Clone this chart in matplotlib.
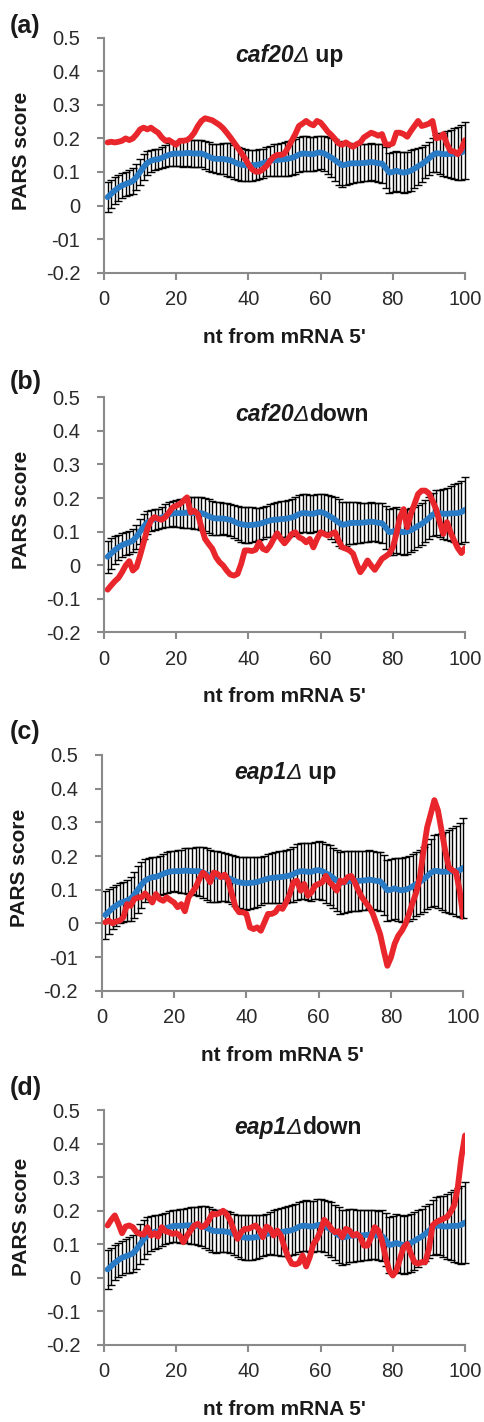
import matplotlib
matplotlib.use("Agg")
import matplotlib.pyplot as plt

plt.rcParams['font.family'] = ['Liberation Sans', 'DejaVu Sans']

# nucleotide positions from the mRNA 5' end
positions = list(range(1, 101))

# mean PARS profile of all mRNAs (blue), shared by the four panels
mean_profile = [0.025, 0.035, 0.045, 0.053, 0.060, 0.064, 0.068, 0.073, 0.085, 0.100,
                0.115, 0.127, 0.133, 0.137, 0.138, 0.142, 0.147, 0.151, 0.154, 0.155,
                0.155, 0.155, 0.157, 0.156, 0.155, 0.155, 0.155, 0.151, 0.146, 0.141,
                0.139, 0.139, 0.139, 0.137, 0.135, 0.130, 0.125, 0.122, 0.120, 0.119,
                0.120, 0.121, 0.123, 0.126, 0.130, 0.133, 0.135, 0.136, 0.137, 0.138,
                0.140, 0.142, 0.146, 0.152, 0.155, 0.155, 0.153, 0.153, 0.157, 0.158,
                0.155, 0.149, 0.143, 0.135, 0.127, 0.120, 0.122, 0.125, 0.126, 0.126,
                0.126, 0.127, 0.128, 0.130, 0.128, 0.126, 0.125, 0.113, 0.098, 0.100,
                0.104, 0.100, 0.098, 0.100, 0.104, 0.110, 0.117, 0.123, 0.131, 0.140,
                0.150, 0.156, 0.155, 0.153, 0.153, 0.154, 0.155, 0.155, 0.158, 0.165]

# error bar half-widths for each panel
err_a = [0.044, 0.042, 0.040, 0.038, 0.037, 0.037, 0.037, 0.038, 0.039, 0.040,
         0.038, 0.035, 0.033, 0.031, 0.030, 0.031, 0.032, 0.034, 0.036, 0.037,
         0.038, 0.039, 0.040, 0.040, 0.040, 0.041, 0.041, 0.042, 0.042, 0.042,
         0.043, 0.044, 0.046, 0.048, 0.050, 0.050, 0.049, 0.048, 0.047, 0.047,
         0.046, 0.045, 0.044, 0.043, 0.043, 0.045, 0.047, 0.048, 0.049, 0.050,
         0.051, 0.052, 0.053, 0.053, 0.053, 0.052, 0.051, 0.051, 0.050, 0.050,
         0.052, 0.055, 0.058, 0.062, 0.065, 0.065, 0.062, 0.060, 0.058, 0.057,
         0.056, 0.055, 0.055, 0.055, 0.055, 0.056, 0.058, 0.060, 0.060, 0.060,
         0.060, 0.061, 0.061, 0.061, 0.061, 0.058, 0.055, 0.052, 0.050, 0.048,
         0.050, 0.055, 0.060, 0.064, 0.068, 0.072, 0.075, 0.078, 0.082, 0.085]
err_b = [0.048, 0.045, 0.042, 0.038, 0.035, 0.034, 0.034, 0.035, 0.036, 0.037,
         0.036, 0.034, 0.032, 0.031, 0.030, 0.032, 0.034, 0.036, 0.038, 0.040,
         0.042, 0.043, 0.045, 0.046, 0.047, 0.048, 0.049, 0.050, 0.050, 0.050,
         0.049, 0.048, 0.047, 0.047, 0.047, 0.048, 0.050, 0.052, 0.053, 0.053,
         0.052, 0.050, 0.048, 0.047, 0.047, 0.048, 0.050, 0.052, 0.053, 0.054,
         0.055, 0.056, 0.057, 0.057, 0.057, 0.056, 0.056, 0.055, 0.055, 0.055,
         0.057, 0.060, 0.064, 0.067, 0.070, 0.068, 0.065, 0.063, 0.062, 0.061,
         0.060, 0.059, 0.058, 0.057, 0.057, 0.058, 0.060, 0.064, 0.068, 0.070,
         0.069, 0.068, 0.067, 0.066, 0.065, 0.064, 0.063, 0.062, 0.062, 0.062,
         0.064, 0.067, 0.070, 0.074, 0.078, 0.082, 0.086, 0.090, 0.094, 0.097]
err_c = [0.070, 0.066, 0.063, 0.060, 0.059, 0.060, 0.062, 0.065, 0.068, 0.070,
         0.068, 0.064, 0.061, 0.059, 0.058, 0.058, 0.059, 0.060, 0.060, 0.060,
         0.062, 0.064, 0.066, 0.068, 0.069, 0.071, 0.073, 0.075, 0.077, 0.078,
         0.077, 0.075, 0.073, 0.071, 0.071, 0.072, 0.074, 0.076, 0.077, 0.078,
         0.077, 0.075, 0.073, 0.072, 0.071, 0.072, 0.074, 0.076, 0.077, 0.078,
         0.079, 0.080, 0.082, 0.083, 0.083, 0.084, 0.085, 0.086, 0.086, 0.086,
         0.087, 0.088, 0.089, 0.090, 0.091, 0.092, 0.092, 0.091, 0.090, 0.090,
         0.089, 0.088, 0.087, 0.087, 0.086, 0.087, 0.088, 0.089, 0.090, 0.090,
         0.091, 0.093, 0.095, 0.097, 0.097, 0.097, 0.096, 0.096, 0.096, 0.097,
         0.100, 0.105, 0.110, 0.114, 0.118, 0.123, 0.128, 0.134, 0.140, 0.148]
err_d = [0.058, 0.055, 0.052, 0.050, 0.050, 0.051, 0.053, 0.056, 0.058, 0.060,
         0.058, 0.055, 0.052, 0.050, 0.048, 0.047, 0.047, 0.047, 0.048, 0.048,
         0.050, 0.051, 0.052, 0.054, 0.055, 0.057, 0.060, 0.062, 0.064, 0.065,
         0.064, 0.063, 0.062, 0.061, 0.060, 0.061, 0.063, 0.065, 0.066, 0.067,
         0.066, 0.065, 0.063, 0.062, 0.061, 0.063, 0.066, 0.069, 0.071, 0.073,
         0.074, 0.075, 0.075, 0.075, 0.075, 0.076, 0.076, 0.077, 0.077, 0.077,
         0.078, 0.080, 0.082, 0.083, 0.084, 0.083, 0.081, 0.079, 0.078, 0.077,
         0.076, 0.075, 0.074, 0.073, 0.073, 0.074, 0.076, 0.079, 0.083, 0.085,
         0.086, 0.087, 0.087, 0.087, 0.087, 0.086, 0.085, 0.083, 0.082, 0.080,
         0.082, 0.085, 0.088, 0.092, 0.097, 0.102, 0.107, 0.112, 0.116, 0.120]

# PARS profiles of the regulated gene sets (red)
red_a = [0.188, 0.190, 0.188, 0.190, 0.193, 0.200, 0.195, 0.200, 0.212, 0.227,
         0.232, 0.227, 0.232, 0.224, 0.217, 0.203, 0.193, 0.195, 0.188, 0.181,
         0.193, 0.193, 0.195, 0.203, 0.217, 0.237, 0.252, 0.260, 0.257, 0.254,
         0.247, 0.240, 0.230, 0.217, 0.203, 0.188, 0.173, 0.158, 0.141, 0.123,
         0.108, 0.101, 0.101, 0.108, 0.118, 0.133, 0.145, 0.151, 0.151, 0.155,
         0.173, 0.193, 0.213, 0.237, 0.244, 0.252, 0.244, 0.239, 0.252, 0.247,
         0.234, 0.220, 0.210, 0.198, 0.185, 0.181, 0.188, 0.181, 0.175, 0.183,
         0.188, 0.203, 0.210, 0.217, 0.213, 0.208, 0.213, 0.183, 0.181, 0.185,
         0.217, 0.217, 0.213, 0.205, 0.222, 0.237, 0.252, 0.237, 0.240, 0.244,
         0.252, 0.200, 0.203, 0.213, 0.183, 0.163, 0.161, 0.153, 0.168, 0.195]
red_b = [-0.073, -0.060, -0.048, -0.038, -0.021, -0.001, 0.012, -0.016, -0.006, 0.029,
         0.068, 0.108, 0.133, 0.143, 0.138, 0.135, 0.143, 0.157, 0.172, 0.177,
         0.182, 0.192, 0.202, 0.157, 0.162, 0.152, 0.113, 0.078, 0.063, 0.049,
         0.024, 0.009, -0.001, -0.016, -0.028, -0.031, -0.026, 0.004, 0.044, 0.044,
         0.042, 0.046, 0.068, 0.049, 0.044, 0.058, 0.078, 0.095, 0.078, 0.065,
         0.078, 0.093, 0.098, 0.083, 0.078, 0.068, 0.078, 0.053, 0.078, 0.098,
         0.093, 0.088, 0.093, 0.098, 0.073, 0.053, 0.049, 0.044, 0.034, 0.004,
         -0.021, -0.006, 0.014, -0.001, -0.014, 0.002, 0.019, 0.026, 0.034, 0.053,
         0.093, 0.143, 0.167, 0.113, 0.152, 0.182, 0.212, 0.222, 0.222, 0.214,
         0.192, 0.167, 0.128, 0.093, 0.128, 0.098, 0.073, 0.051, 0.036, 0.051]
red_c = [0.003, 0.008, 0.000, 0.006, 0.008, 0.018, 0.057, 0.052, 0.072, 0.077,
         0.077, 0.089, 0.077, 0.062, 0.087, 0.072, 0.067, 0.077, 0.069, 0.062,
         0.048, 0.057, 0.036, 0.077, 0.092, 0.107, 0.132, 0.151, 0.141, 0.122,
         0.151, 0.147, 0.137, 0.145, 0.127, 0.087, 0.048, 0.033, 0.033, 0.028,
         -0.012, -0.017, -0.012, -0.022, 0.003, 0.028, 0.028, 0.033, 0.048, 0.043,
         0.062, 0.087, 0.122, 0.127, 0.097, 0.117, 0.082, 0.092, 0.112, 0.117,
         0.122, 0.141, 0.122, 0.112, 0.097, 0.127, 0.122, 0.137, 0.141, 0.122,
         0.097, 0.077, 0.062, 0.048, 0.028, -0.002, -0.032, -0.081, -0.126, -0.101,
         -0.061, -0.037, -0.022, -0.002, 0.028, 0.062, 0.092, 0.137, 0.216, 0.285,
         0.325, 0.366, 0.335, 0.275, 0.216, 0.166, 0.158, 0.151, 0.097, 0.018]
red_d = [0.156, 0.173, 0.186, 0.161, 0.133, 0.153, 0.156, 0.151, 0.136, 0.131,
         0.129, 0.151, 0.126, 0.133, 0.123, 0.151, 0.139, 0.136, 0.131, 0.133,
         0.126, 0.106, 0.126, 0.141, 0.156, 0.161, 0.151, 0.156, 0.171, 0.191,
         0.189, 0.193, 0.200, 0.189, 0.171, 0.141, 0.116, 0.136, 0.146, 0.146,
         0.151, 0.156, 0.143, 0.121, 0.153, 0.146, 0.126, 0.141, 0.126, 0.091,
         0.062, 0.042, 0.040, 0.044, 0.067, 0.034, 0.062, 0.101, 0.116, 0.141,
         0.173, 0.161, 0.146, 0.136, 0.139, 0.121, 0.146, 0.141, 0.126, 0.131,
         0.121, 0.096, 0.096, 0.121, 0.151, 0.141, 0.111, 0.062, 0.022, 0.007,
         0.022, 0.057, 0.091, 0.101, 0.072, 0.047, 0.042, 0.047, 0.047, 0.086,
         0.156, 0.166, 0.171, 0.176, 0.181, 0.196, 0.216, 0.270, 0.359, 0.424]

panel_tags = ["(a)", "(b)", "(c)", "(d)"]
genes = ["caf20", "caf20", "eap1", "eap1"]
suffixes = [" up", "down", " up", "down"]
y_ticks = [-0.2, -0.1, 0, 0.1, 0.2, 0.3, 0.4, 0.5]
y_labels_typo = ["-0.2", "-01", "0", "0.1", "0.2", "0.3", "0.4", "0.5"]
y_labels_ok = ["-0.2", "-0.1", "0", "0.1", "0.2", "0.3", "0.4", "0.5"]
x_ticks = [0, 20, 40, 60, 80, 100]

errs = [err_a, err_b, err_c, err_d]
reds = [red_a, red_b, red_c, red_d]
ytick_text = [y_labels_typo, y_labels_ok, y_labels_typo, y_labels_ok]

W, H = 484, 1422
# axes boxes in pixels: left, top, right, bottom
boxes = [(104, 37.7, 465, 272.7),
         (104, 397.3, 465, 632.3),
         (101.7, 755, 463.3, 990.7),
         (104, 1110, 465, 1345)]
tag_y = [26, 382, 732, 1088]
title_x = [0.568, 0.568, 0.554, 0.549]
ylabel_y = [0.52, 0.52, 0.523, 0.546]

BLUE = '#2a7bc5'
RED = '#e8262b'
AXIS = '#8a8a8a'
INK = '#1a1a1a'

fig = plt.figure(figsize=(W / 100, H / 100), dpi=100)

for i in range(4):
    l, t, r, b = boxes[i]
    ax = fig.add_axes([l / W, 1 - b / H, (r - l) / W, (b - t) / H])

    ax.errorbar(positions, mean_profile, yerr=errs[i], fmt='none', ecolor='black',
                elinewidth=1.0, capsize=2.6, capthick=1.0, zorder=2, clip_on=False)
    ax.plot(positions, mean_profile, color=BLUE, lw=4.2, zorder=3,
            solid_capstyle='round', solid_joinstyle='round')
    ax.plot(positions, reds[i], color=RED, lw=4.2, zorder=4,
            solid_capstyle='round', solid_joinstyle='round')

    ax.set_xlim(0, 100)
    ax.set_ylim(-0.2, 0.5)
    ax.set_xticks(x_ticks)
    ax.set_xticklabels([str(v) for v in x_ticks])
    ax.set_yticks(y_ticks)
    ax.set_yticklabels(ytick_text[i])

    for side in ['top', 'right']:
        ax.spines[side].set_visible(False)
    for side in ['left', 'bottom']:
        ax.spines[side].set_color(AXIS)
        ax.spines[side].set_linewidth(1.5)
    ax.tick_params(axis='both', colors=AXIS, length=5, width=1.5,
                   labelcolor='#2a2a2a', labelsize=14.5)
    ax.tick_params(axis='y', pad=12)
    ax.tick_params(axis='x', pad=7.5)

    ax.set_xlabel("nt from mRNA 5'", fontsize=15, fontweight='bold', color=INK)
    ax.xaxis.set_label_coords(0.5, -0.234)
    ax.set_ylabel("PARS score", fontsize=15, fontweight='bold', color=INK)
    ax.yaxis.set_label_coords(-0.202, ylabel_y[i])

    # title: italic gene name and delta, upright direction word
    delta = ax.text(title_x[i], 0.9255, "\u0394", transform=ax.transAxes,
                    fontsize=16.5, fontstyle='italic', ha='right', va='center',
                    color=INK)
    ax.annotate(genes[i], xy=(0, 0), xycoords=delta, ha='right', va='bottom',
                fontsize=16.5, fontstyle='italic', fontweight='bold', color=INK)
    ax.annotate(suffixes[i], xy=(1, 0), xycoords=delta, ha='left', va='bottom',
                fontsize=16.5, fontweight='bold', color=INK)

    fig.text(10 / W, 1 - tag_y[i] / H, panel_tags[i], fontsize=18,
             fontweight='bold', ha='left', va='center', color=INK)

fig.savefig("out.png", dpi=100)
